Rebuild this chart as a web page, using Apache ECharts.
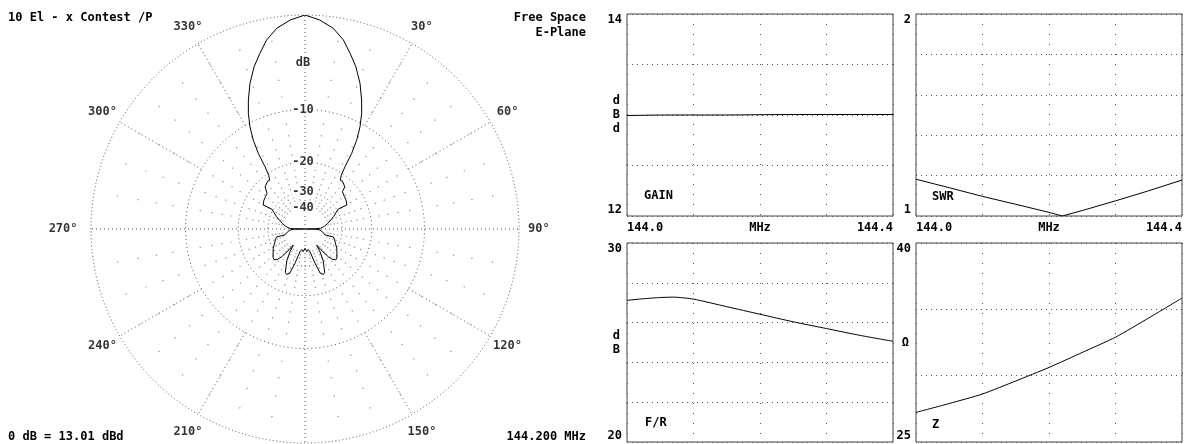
<!DOCTYPE html>
<html>
<head>
<meta charset="utf-8">
<script src="https://cdn.jsdelivr.net/npm/echarts@6/dist/echarts.min.js"></script>
<style>
html,body{margin:0;padding:0;background:#fff;}
#chart{width:1192px;height:444px;}
</style>
</head>
<body>
<div id="chart"></div>
<script>
// E-plane pattern, degrees (0 = forward, clockwise) and dB below max
var patternAngle = [0, 4, 8, 11.5, 14.4, 17.4, 20.7, 23.7, 26.1, 28.3, 30.2, 31.7, 32.7, 34, 36, 38, 40.5, 43.4, 45, 47, 50.6, 55, 58, 60.2, 59, 62, 66.5, 71, 76, 82, 87.4, 89, 90,
    91, 93.8, 100, 106.5, 105.5, 109, 113, 121, 127, 132, 135, 138, 140, 142.5, 144, 146.5, 150, 153, 155.5, 158, 161, 163.7, 167.6, 171, 175.5, 180,
    184.5, 189, 192.4, 196.3, 199, 202, 204.5, 207, 210, 213.5, 216, 217.5, 220, 222, 225, 228, 233, 239, 247, 251, 254.5, 253.5, 260, 266.2, 269, 270,
    271, 272.6, 278, 284, 289, 293.5, 298, 301, 299.8, 302, 305, 309.4, 313, 315, 316.6, 319.5, 322, 324, 326, 327.3, 328.3, 329.8, 331.7, 333.9, 336.3, 339.3, 342.6, 345.6, 348.5, 352, 356, 360];
var patternDb = [0, -0.36, -0.93, -1.79, -2.84, -3.94, -5.46, -7.18, -8.72, -10.5, -12.6, -15.1, -18.2, -20.5, -21.8, -21.6, -22.0, -22.4, -24.0, -24.3, -24.6, -24.9, -25.3, -25.6, -29.3, -31.0, -33, -35.5, -38, -41, -45, -52, -100,
    -52, -45.6, -42.5, -39.9, -34.1, -33, -32.3, -30.1, -28.8, -27.6, -27.3, -28.5, -30.5, -36, -40.8, -35.4, -30.5, -28.2, -25.8, -25.3, -26.1, -30.7, -38.1, -40.0, -38.5, -41.3,
    -38.5, -40.0, -38.1, -30.7, -26.1, -25.3, -25.8, -28.2, -30.5, -35.4, -40.8, -36, -30.5, -28.5, -27.3, -27.6, -28.8, -30.1, -32.3, -33, -34.1, -39.9, -42.5, -45.6, -52, -100,
    -52, -45, -41, -38, -35.5, -33, -31.0, -29.3, -25.6, -25.3, -24.9, -24.6, -24.3, -24.0, -22.4, -22.0, -21.6, -21.8, -20.5, -18.2, -15.1, -12.6, -10.5, -8.72, -7.18, -5.46, -3.94, -2.84, -1.79, -0.93, -0.36, 0];

var ringDb = [-10, -20, -30];
var ringLabelText = ['dB', '-10', '-20', '-30', '-40'];
var ringLabelDb = [-4.3, -10, -20, -30, -40];
var angleLabelDeg = [30, 60, 90, 120, 150, 210, 240, 270, 300, 330];
var spokeFull = [0, 90, 180, 270];
var spokeOuter = [30, 60, 120, 150, 210, 240, 300, 330];
var dotDb = [-2, -4, -6, -8, -12, -14, -16, -18, -22, -24, -26, -28, -32, -34, -36, -38];

// sweep plots
var gainFreq = [144.0, 144.05, 144.1, 144.15, 144.2, 144.25, 144.3, 144.35, 144.4];
var gainVal = [12.995, 13.0, 13.0, 13.0, 13.003, 13.005, 13.005, 13.005, 13.005];
var swrFreq = [144.0, 144.05, 144.1, 144.15, 144.2, 144.22, 144.25, 144.3, 144.35, 144.4];
var swrVal = [1.182, 1.14, 1.097, 1.058, 1.018, 1.0, 1.027, 1.075, 1.125, 1.178];
var frFreq = [144.0, 144.025, 144.05, 144.07, 144.1, 144.15, 144.2, 144.25, 144.3, 144.35, 144.4];
var frVal = [27.12, 27.2, 27.26, 27.28, 27.18, 26.8, 26.42, 26.04, 25.7, 25.36, 25.06];
var zFreq = [144.0, 144.05, 144.1, 144.15, 144.2, 144.25, 144.3, 144.35, 144.4];
var zVal = [27.23, 27.9, 28.62, 29.6, 30.62, 31.75, 32.9, 34.35, 35.85];
var freqLabelAt = [144.0, 144.2, 144.4];
var freqLabelText = ['144.0', 'MHz', '144.4'];

var FONT = '"DejaVu Sans Mono", monospace';
var GRID_DOT = '#555';

// ARRL log scale: 0.89 per 2 dB
function rho(db) {
    return Math.pow(0.89, -db / 2);
}
function pairs(xs, ys) {
    var out = [];
    for (var i = 0; i < xs.length; i++) out.push([xs[i], ys[i]]);
    return out;
}

var myChart = echarts.init(document.getElementById('chart'));

var series = [];

// dotted rings
ringDb.forEach(function (db) {
    var d = [];
    for (var a = 0; a <= 360; a += 2) d.push([rho(db), a]);
    series.push({
        type: 'line', coordinateSystem: 'polar', data: d, symbol: 'none', silent: true,
        lineStyle: {color: GRID_DOT, width: 1, type: [1, 3]}
    });
});

// spokes
var spokes = [];
spokeFull.forEach(function (a) {
    spokes.push([0, a], [1, a], ['-', '-']);
});
spokeOuter.forEach(function (a) {
    spokes.push([rho(-10), a], [1, a], ['-', '-']);
});
series.push({
    type: 'line', coordinateSystem: 'polar', data: spokes, symbol: 'none', silent: true,
    connectNulls: false,
    lineStyle: {color: GRID_DOT, width: 1, type: [1, 3]}
});

// minor dots every 10 degrees
var dots = [];
for (var a = 10; a < 360; a += 10) {
    if (a % 90 === 0) continue;
    dotDb.forEach(function (db) { dots.push([rho(db), a]); });
}
series.push({
    type: 'scatter', coordinateSystem: 'polar', data: dots, symbol: 'rect', symbolSize: 1.2,
    silent: true, itemStyle: {color: '#777'}
});

// ring labels
series.push({
    type: 'scatter', coordinateSystem: 'polar', symbolSize: 0.1, silent: true, clip: false, z: 5,
    itemStyle: {color: 'rgba(0,0,0,0)'},
    data: ringLabelDb.map(function (db, i) { return {name: ringLabelText[i], value: [rho(db), 0]}; }),
    label: {
        show: true, position: 'inside', formatter: '{b}', offset: [-2, 0],
        fontFamily: FONT, fontWeight: 'bold', fontSize: 12, color: '#000',
        backgroundColor: '#fff', padding: [0, 1]
    }
});

// angle labels
series.push({
    type: 'scatter', coordinateSystem: 'polar', symbolSize: 0.1, silent: true, clip: false,
    itemStyle: {color: 'rgba(0,0,0,0)'},
    data: angleLabelDeg.map(function (a) {
        var item = {name: a + '°', value: [1.093, a]};
        if (a === 270) item.label = {offset: [-8, 0]};
        return item;
    }),
    label: {
        show: true, position: 'inside', formatter: '{b}',
        fontFamily: FONT, fontWeight: 'bold', fontSize: 12, color: '#000'
    }
});

// pattern
series.push({
    type: 'line', coordinateSystem: 'polar', symbol: 'none', z: 10,
    data: patternAngle.map(function (a, i) { return [rho(patternDb[i]), a]; }),
    lineStyle: {color: '#000', width: 1}
});

// sweep series
var sweeps = [[gainFreq, gainVal, false], [swrFreq, swrVal, false], [frFreq, frVal, 0.2], [zFreq, zVal, 0.2]];
sweeps.forEach(function (s, i) {
    series.push({
        type: 'line', xAxisIndex: i, yAxisIndex: i, symbol: 'none', smooth: s[2],
        data: pairs(s[0], s[1]), lineStyle: {color: '#000', width: 1}, z: 10
    });
});

var grids = [
    {left: 627, top: 14, width: 266, height: 202},
    {left: 916, top: 14, width: 266, height: 202},
    {left: 627, top: 243, width: 266, height: 199},
    {left: 916, top: 243, width: 266, height: 199}
];
grids.forEach(function (g) {
    g.show = true;
    g.borderColor = '#444';
    g.borderWidth = 1;
    g.backgroundColor = 'transparent';
});

var yDefs = [
    {min: 12, max: 14, interval: 0.5, name: 'd\nB\nd'},
    {min: 1, max: 2, interval: 0.2, name: ''},
    {min: 20, max: 30, interval: 2, name: 'd\nB'},
    {min: 25, max: 40, interval: 5, name: 'Ω'}
];

var xAxes = [0, 1, 2, 3].map(function (i) {
    return {
        gridIndex: i, type: 'value', min: 144, max: 144.4, interval: 0.1,
        axisLine: {show: false}, axisTick: {show: false},
        splitLine: {show: true, lineStyle: {color: GRID_DOT, type: [1, 9]}},
        axisLabel: {
            show: i < 2, margin: 6, alignMinLabel: 'left', alignMaxLabel: 'right',
            fontFamily: FONT, fontWeight: 'bold', fontSize: 12, color: '#000',
            formatter: function (v) {
                for (var k = 0; k < freqLabelAt.length; k++) {
                    if (Math.abs(v - freqLabelAt[k]) < 1e-6) return freqLabelText[k];
                }
                return '';
            }
        }
    };
});

var yAxes = yDefs.map(function (d, i) {
    return {
        gridIndex: i, type: 'value', min: d.min, max: d.max, interval: d.interval,
        axisLine: {show: false}, axisTick: {show: false},
        splitLine: {show: true, lineStyle: {color: GRID_DOT, type: [1, 4]}},
        name: d.name, nameLocation: 'middle', nameRotate: 0, nameGap: 7, nameMoveOverlap: false,
        nameTextStyle: {fontFamily: FONT, fontWeight: 'bold', fontSize: 12, color: '#000', lineHeight: 14},
        axisLabel: {
            margin: 5, verticalAlignMinLabel: 'bottom', verticalAlignMaxLabel: 'top',
            fontFamily: FONT, fontWeight: 'bold', fontSize: 12, color: '#000',
            formatter: function (v) {
                if (Math.abs(v - d.min) < 1e-6 || Math.abs(v - d.max) < 1e-6) return String(v);
                return '';
            }
        }
    };
});

function txt(text, x, y, align) {
    return {
        type: 'text', x: x, y: y, silent: true, z: 20,
        style: {
            text: text, fill: '#000', align: align || 'left', verticalAlign: 'middle',
            font: 'bold 12px ' + FONT
        }
    };
}

option = {
    animation: false,
    backgroundColor: '#fff',
    textStyle: {fontFamily: FONT},
    polar: {center: [305, 229], radius: 214},
    angleAxis: {
        type: 'value', min: 0, max: 360, interval: 30, startAngle: 90, clockwise: true,
        axisLine: {show: true, lineStyle: {color: GRID_DOT, width: 1, type: [1, 2.5]}},
        axisTick: {show: false}, axisLabel: {show: false}, splitLine: {show: false}
    },
    radiusAxis: {type: 'value', min: 0, max: 1, show: false},
    grid: grids,
    xAxis: xAxes,
    yAxis: yAxes,
    graphic: [
        txt('10 El - x Contest /P', 8, 18),
        txt('Free Space', 586, 18, 'right'),
        txt('E-Plane', 586, 33, 'right'),
        txt('0 dB = 13.01 dBd', 8, 437),
        txt('144.200 MHz', 586, 437, 'right'),
        txt('GAIN', 644, 196),
        txt('SWR', 932, 197),
        txt('F/R', 645, 423),
        txt('Z', 932, 425)
    ],
    series: series
};
myChart.setOption(option);
</script>
</body>
</html>
